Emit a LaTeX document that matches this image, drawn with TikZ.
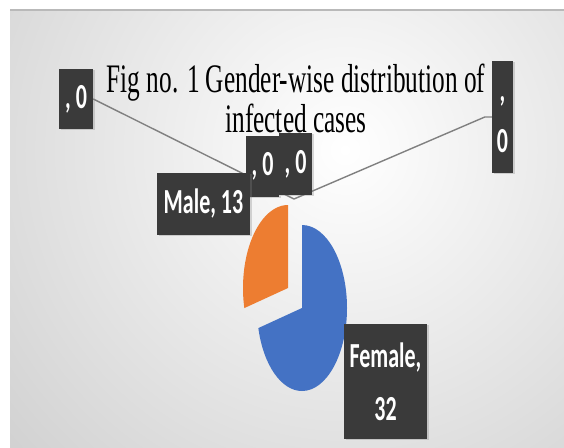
\documentclass[tikz,border=0pt]{standalone}
\usepackage{fontspec}
\usetikzlibrary{shadows}
\newfontfamily\titlefont{Liberation Serif}
\newfontfamily\lblfont{Carlito}
\definecolor{boxgray}{RGB}{58,58,58}
\definecolor{bgedge}{RGB}{190,190,190}
\definecolor{leadgray}{RGB}{128,128,128}
\definecolor{femblue}{RGB}{68,114,196}
\definecolor{maleorange}{RGB}{237,125,49}
\pgfdeclarelayer{bg}
\pgfdeclarelayer{lines}
\pgfsetlayers{bg,lines,main}
\tikzset{
  databox/.style={fill=boxgray, text=white, inner sep=0pt, align=center,
    font=\lblfont\bfseries\fontsize{22}{29}\selectfont, yscale=1.6, transform shape,
    drop shadow={shadow xshift=2pt, shadow yshift=-1.2pt, opacity=0.3}},
  leader/.style={draw=leadgray, line width=1.4pt}
}
\begin{document}
\begin{tikzpicture}[x=1pt,y=1pt]
\useasboundingbox (0,0) rectangle (564,-447);
\begin{pgfonlayer}{bg}
\fill[bgedge] (10,-9) rectangle (564,-447);
\begin{scope}
\clip (10,-9) rectangle (564,-447);
\shade[inner color=white, outer color=bgedge] (345,-150) circle (640);
\end{scope}
\draw[gray!55, line width=1.5pt] (10,-10) -- (564,-10);
\end{pgfonlayer}
% title
\node[font=\titlefont\fontsize{25.3}{25}\selectfont, align=center, yscale=1.6, transform shape] (title) at (296,-98)
  {Fig no. 1 Gender-wise distribution of\\infected cases};
% pie
\coordinate (fc) at (302,-308);
\coordinate (mc) at (288,-288);
\coordinate (pietop) at (294,-199);
\fill[femblue] (fc) -- ++(0,83) arc[start angle=90, end angle=-166, x radius=45, y radius=83] -- cycle;
\fill[maleorange] (mc) -- ++(0,83) arc[start angle=90, end angle=194, x radius=45, y radius=83] -- cycle;
% data labels
\node[databox, minimum width=34pt, minimum height=37.5pt] (zeroA) at (76,-99) {, 0};
\node[databox, minimum width=21pt, minimum height=70pt, font=\lblfont\bfseries\fontsize{22}{32}\selectfont] (zeroB) at (502.5,-117) {\strut,\\\strut0};
\node[databox, minimum width=33pt, minimum height=38pt] (zeroC) at (262.5,-166.5) {, 0};
\node[databox, minimum width=33pt, minimum height=38.75pt] (zeroD) at (295.5,-164) {, 0};
\node[databox, minimum width=93pt, minimum height=38.75pt] (male) at (203.5,-204) {Male, 13};
\node[databox, minimum width=83pt, minimum height=72pt] (female) at (385.5,-381.5) {Female,\\[4pt]32};
% leader lines
\begin{pgfonlayer}{lines}
\draw[leader] (zeroA.east) -- (pietop);
\draw[leader] (zeroB.west) -- ++(-7,0) -- (pietop);
\end{pgfonlayer}
\end{tikzpicture}
\end{document}
